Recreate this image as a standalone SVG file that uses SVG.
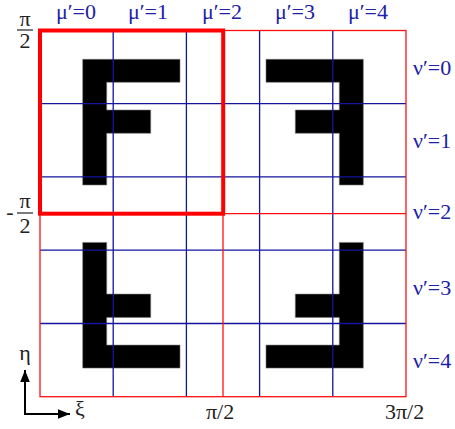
<svg xmlns="http://www.w3.org/2000/svg" width="455" height="429" viewBox="0 0 455 429">
<defs>
<style>
.blk{fill:#000;stroke:#777;stroke-width:0.6}
.blue{stroke:#1414a0;stroke-width:1.3;fill:none}
.red{stroke:#ff1010;stroke-width:1.3;fill:none}
.ax{stroke:#000;stroke-width:2;fill:none}
text{font-family:"Liberation Serif","Times New Roman",serif;font-size:22px}
</style>
<marker id="ah" viewBox="0 0 10 10" refX="10" refY="5" markerWidth="6" markerHeight="6" orient="auto" markerUnits="strokeWidth">
<path d="M0,1 L10,5 L0,9 Z" fill="#000"/>
</marker>
</defs>
<rect width="455" height="429" fill="#fff"/>
<g id="letters">
<path class="blk" d="M82.7,59.3 H180 V82.3 H106.7 V110 H150.7 V133.3 H106.7 V185 H82.7 Z"/>
<path class="blk" d="M363.3,59.3 H266 V82.3 H339.3 V110 H295.3 V133.3 H339.3 V185 H363.3 Z"/>
<path class="blk" d="M82.7,368.1 H180 V345.1 H106.7 V317.4 H150.7 V294.1 H106.7 V242.4 H82.7 Z"/>
<path class="blk" d="M363.3,368.1 H266 V345.1 H339.3 V317.4 H295.3 V294.1 H339.3 V242.4 H363.3 Z"/>
</g>
<g id="grid">
<path class="blue" d="M113.2,30.5 V396.7 M186.4,30.5 V396.7 M259.6,30.5 V396.7 M332.8,30.5 V396.7 M40,103.7 H406 M40,176.9 H406 M40,250.2 H406 M40,323.5 H406"/>
<rect class="red" x="40" y="30.5" width="366" height="366.2"/>
<path class="red" d="M223,30.5 V396.7 M40,213.6 H406"/>
<rect x="40" y="30.5" width="183.2" height="183.2" fill="none" stroke="#ff0000" stroke-width="4"/>
</g>
<g id="mu-labels" fill="#2020a8" text-anchor="middle">
<text style="font-family:'Liberation Serif',serif;font-size:22px" x="76" y="19">μ′=0</text>
<text style="font-family:'Liberation Serif',serif;font-size:22px" x="148" y="19">μ′=1</text>
<text style="font-family:'Liberation Serif',serif;font-size:22px" x="222" y="19">μ′=2</text>
<text style="font-family:'Liberation Serif',serif;font-size:22px" x="295" y="19">μ′=3</text>
<text style="font-family:'Liberation Serif',serif;font-size:22px" x="368" y="19">μ′=4</text>
</g>
<g id="nu-labels" fill="#2020a8">
<text style="font-family:'Liberation Serif',serif;font-size:22px" x="413" y="75">ν′=0</text>
<text style="font-family:'Liberation Serif',serif;font-size:22px" x="413" y="148">ν′=1</text>
<text style="font-family:'Liberation Serif',serif;font-size:22px" x="413" y="219">ν′=2</text>
<text style="font-family:'Liberation Serif',serif;font-size:22px" x="413" y="295">ν′=3</text>
<text style="font-family:'Liberation Serif',serif;font-size:22px" x="413" y="368">ν′=4</text>
</g>
<g id="y-labels" fill="#222" text-anchor="middle">
<text style="font-family:'Liberation Serif',serif;font-size:22px" x="25" y="26">π</text>
<line x1="17" y1="30" x2="33" y2="30" stroke="#222" stroke-width="1.2"/>
<text style="font-family:'Liberation Serif',serif;font-size:22px" x="25" y="48">2</text>
<text style="font-family:'Liberation Serif',serif;font-size:22px" x="10" y="219">-</text>
<text style="font-family:'Liberation Serif',serif;font-size:22px" x="25" y="208">π</text>
<line x1="17" y1="213" x2="33" y2="213" stroke="#222" stroke-width="1.2"/>
<text style="font-family:'Liberation Serif',serif;font-size:22px" x="25" y="233">2</text>
</g>
<g id="x-labels" fill="#222">
<text style="font-family:'Liberation Serif',serif;font-size:22px" x="206" y="419">π/2</text>
<text style="font-family:'Liberation Serif',serif;font-size:22px" x="385" y="419">3π/2</text>
</g>
<g id="axes">
<path class="ax" d="M25,414 V370" marker-end="url(#ah)"/>
<path class="ax" d="M24,414 H70" marker-end="url(#ah)"/>
<text style="font-family:'Liberation Serif',serif;font-size:22px" fill="#222" x="25" y="360" text-anchor="middle">η</text>
<text style="font-family:'Liberation Serif',serif;font-size:22px" fill="#222" x="75" y="416">ξ</text>
</g>
</svg>
